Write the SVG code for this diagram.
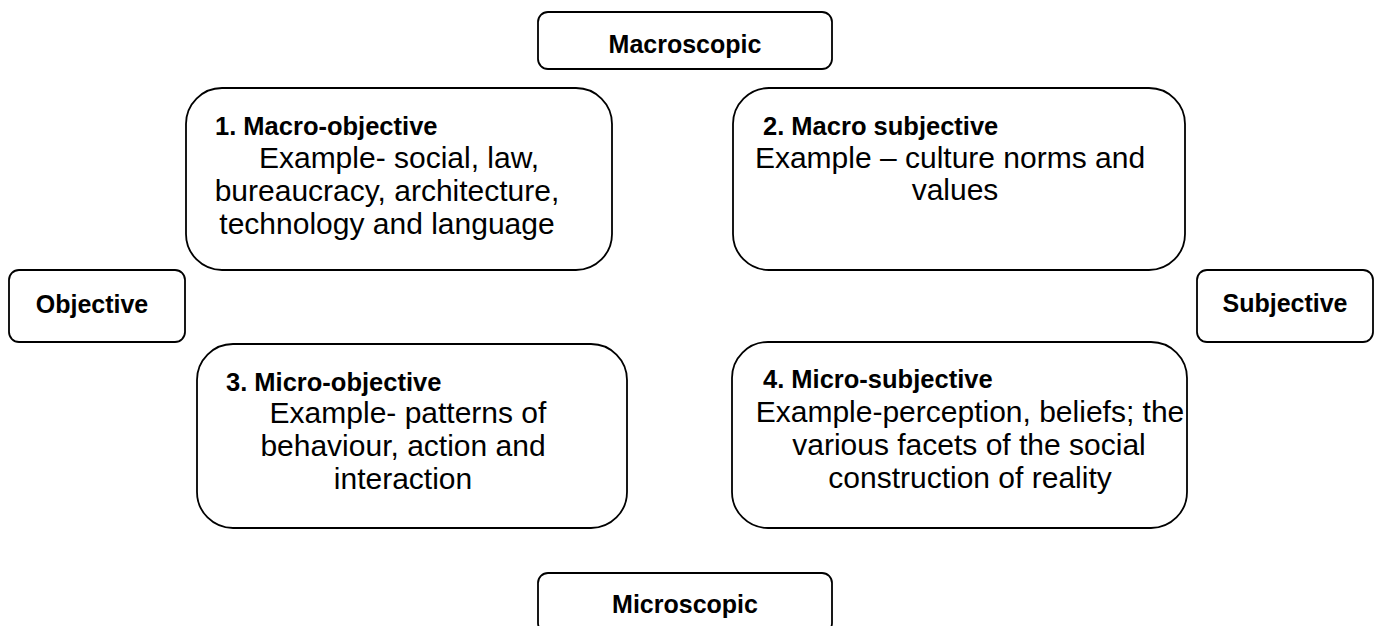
<svg xmlns="http://www.w3.org/2000/svg" width="1380" height="626" viewBox="0 0 1380 626">
<style>
.box{fill:#fff;stroke:#000;stroke-width:1.8}
.lbl{font-family:"Liberation Sans",Arial,sans-serif;font-weight:bold;font-size:25px;fill:#000}
.hd{font-family:"Liberation Sans",Arial,sans-serif;font-weight:bold;font-size:25.5px;fill:#000}
.bd{font-family:"Liberation Sans",Arial,sans-serif;font-size:30px;fill:#000;text-anchor:middle}
</style>
<rect width="1380" height="626" fill="#fff"/>
<g id="macroscopic">
<rect class="box" x="538" y="12" width="294" height="57" rx="10"/>
<text class="lbl" x="685" y="53" text-anchor="middle">Macroscopic</text>
</g>
<g id="macro-objective">
<rect class="box" x="186" y="88" width="426" height="182" rx="36"/>
<text class="hd" x="215" y="135">1. Macro-objective</text>
<text class="bd" x="399" y="168">Example- social, law,</text>
<text class="bd" x="387" y="201">bureaucracy, architecture,</text>
<text class="bd" x="387" y="234">technology and language</text>
</g>
<g id="macro-subjective">
<rect class="box" x="733" y="88" width="452" height="182" rx="36"/>
<text class="hd" x="763" y="135">2. Macro subjective</text>
<text class="bd" x="950" y="168">Example – culture norms and</text>
<text class="bd" x="955" y="200">values</text>
</g>
<g id="objective">
<rect class="box" x="9" y="270" width="176" height="72" rx="10"/>
<text class="lbl" x="92" y="313" text-anchor="middle">Objective</text>
</g>
<g id="subjective">
<rect class="box" x="1197" y="270" width="176" height="72" rx="10"/>
<text class="lbl" x="1285" y="312" text-anchor="middle">Subjective</text>
</g>
<g id="micro-objective">
<rect class="box" x="197" y="344" width="430" height="184" rx="36"/>
<text class="hd" x="226" y="391">3. Micro-objective</text>
<text class="bd" x="408" y="423">Example- patterns of</text>
<text class="bd" x="403" y="456">behaviour, action and</text>
<text class="bd" x="403" y="489">interaction</text>
</g>
<g id="micro-subjective">
<rect class="box" x="732" y="342" width="455" height="186" rx="36"/>
<text class="hd" x="763" y="388">4. Micro-subjective</text>
<text class="bd" x="970" y="422">Example-perception, beliefs; the</text>
<text class="bd" x="969" y="455">various facets of the social</text>
<text class="bd" x="970" y="488">construction of reality</text>
</g>
<g id="microscopic">
<rect class="box" x="538" y="573" width="294" height="60" rx="10"/>
<text class="lbl" x="685" y="613" text-anchor="middle">Microscopic</text>
</g>
<g id="connectors"></g>
</svg>
